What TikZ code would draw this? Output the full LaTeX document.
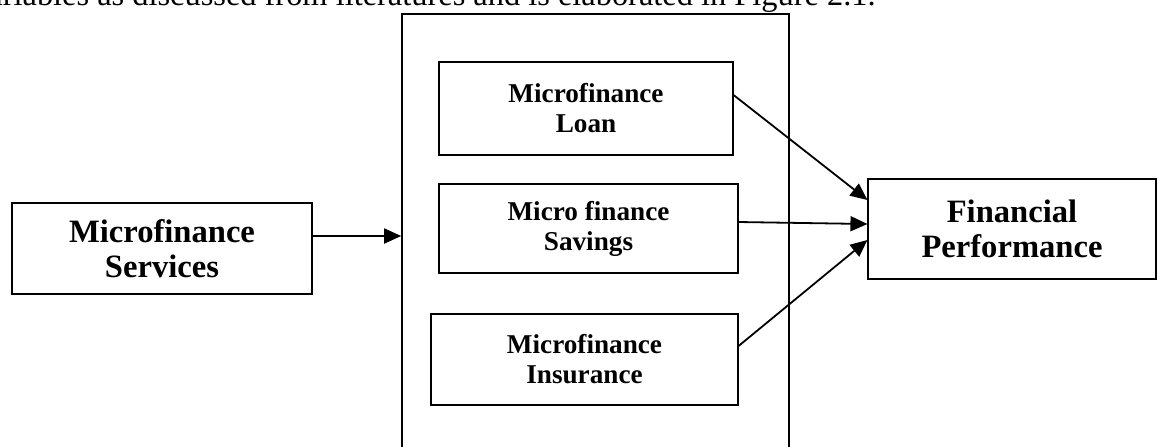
\documentclass[tikz,border=0pt]{standalone}
\usepackage{fontspec}
\setmainfont{Liberation Serif}
\usetikzlibrary{arrows.meta}
\tikzset{
  box/.style={draw,line width=0.55pt,align=center,inner sep=0pt,
    font=\bfseries\fontsize{13.6}{15}\selectfont},
  bigbox/.style={box,font=\bfseries\fontsize{16.3}{17.5}\selectfont},
  link/.style={line width=0.9pt,-{Triangle[length=8.5pt,width=7.5pt]}}
}

\begin{document}
\begin{tikzpicture}[x=0.5pt,y=-0.5pt]
\useasboundingbox (0,0) rectangle (1158,446);
\node[anchor=base east,inner sep=0pt,font=\fontsize{16.2}{18}\selectfont] (intro) at (876,5)
  {variables as discussed from literatures and is elaborated in Figure 2.1.};
\node[draw,line width=0.8pt,minimum width=193.5pt,minimum height=228pt] (frame) at (595.5,242) {};
\node[box,minimum width=147pt,minimum height=46.5pt] (loan) at (586,108.5) {Microfinance\\Loan};
\node[box,minimum width=149.5pt,minimum height=44.5pt] (savings) at (588.5,228.5) {Micro finance\\Savings};
\node[box,minimum width=153.5pt,minimum height=45.5pt] (insurance) at (584.5,359.5) {Microfinance\\Insurance};
\node[bigbox,minimum width=150pt,minimum height=45.5pt] (services) at (162,248.5) {Microfinance\\Services};
\node[bigbox,minimum width=144pt,minimum height=50pt] (perf) at (1012,229) {Financial\\Performance};
\draw[link] (services.east |- 0,236) -- (frame.west |- 0,236);
\draw[link] (loan.east |- 0,95) -- (perf.west |- 0,200);
\draw[link] (savings.east |- 0,222) -- (perf.west |- 0,224);
\draw[link] (insurance.east |- 0,346) -- (perf.west |- 0,240);
\end{tikzpicture}
\end{document}
